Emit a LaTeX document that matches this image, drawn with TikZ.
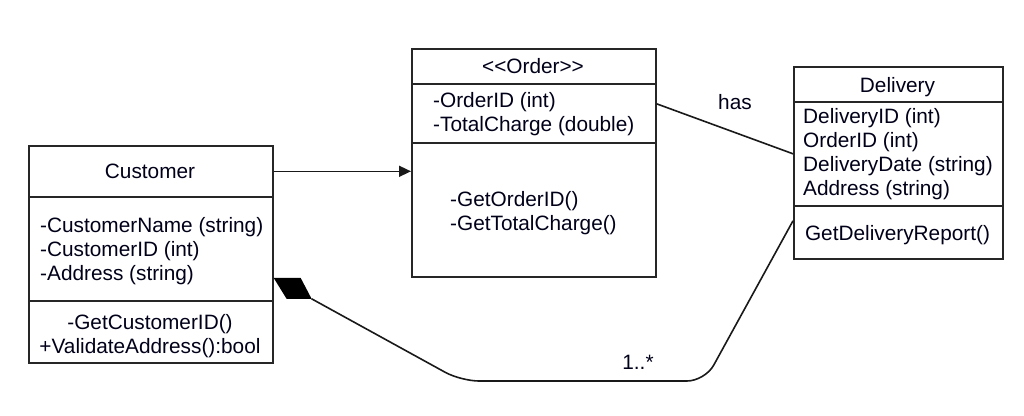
\documentclass[tikz,border=0pt]{standalone}
\usepackage{fontspec}
\setmainfont{Liberation Sans}
\usetikzlibrary{arrows.meta}
\begin{document}
\begin{tikzpicture}[x=1pt,y=-1pt,
  comp/.style={draw=black!85, line width=1.6pt, anchor=north west, inner sep=0pt},
  txt/.style={inner sep=0pt, text=black!90!blue, font=\fontsize{20.8}{24}\selectfont},
  conn/.style={draw=black!90, line width=1.6pt}]
\useasboundingbox (0,0) rectangle (1024,415);
% Customer
\node[comp, minimum width=244pt, minimum height=51pt] (custHead) at (28,145) {};
\node[comp, minimum width=244pt, minimum height=104pt] (custAttr) at (28,196) {};
\node[comp, minimum width=244pt, minimum height=62pt] (custMeth) at (28,300) {};
\node[txt, anchor=base] (tCust) at (150,178.5) {Customer};
\node[txt, anchor=base west] (tC1) at (40,232.5) {-CustomerName (string)};
\node[txt, anchor=base west] (tC2) at (40,256.5) {-CustomerID (int)};
\node[txt, anchor=base west] (tC3) at (40,280.5) {-Address (string)};
\node[txt, anchor=base] (tC4) at (150,329) {-GetCustomerID()};
\node[txt, anchor=base] (tC5) at (150,353) {+ValidateAddress():bool};
% Order
\node[comp, minimum width=244pt, minimum height=35pt] (ordHead) at (411,48) {};
\node[comp, minimum width=244pt, minimum height=59pt] (ordAttr) at (411,83) {};
\node[comp, minimum width=244pt, minimum height=134pt] (ordMeth) at (411,142) {};
\node[txt, anchor=base] (tOrd) at (533,73.5) {<{}<Order>{}>};
\node[txt, anchor=base west] (tO1) at (433,107.5) {-OrderID (int)};
\node[txt, anchor=base west] (tO2) at (433,131.5) {-TotalCharge (double)};
\node[txt, anchor=base west] (tO3) at (450,206) {-GetOrderID()};
\node[txt, anchor=base west] (tO4) at (450,230) {-GetTotalCharge()};
% Delivery
\node[comp, minimum width=209pt, minimum height=35pt] (delHead) at (793,66) {};
\node[comp, minimum width=209pt, minimum height=104pt] (delAttr) at (793,101) {};
\node[comp, minimum width=209pt, minimum height=53pt] (delMeth) at (793,205) {};
\node[txt, anchor=base] (tDel) at (897.5,92) {Delivery};
\node[txt, anchor=base west] (tD1) at (803,123) {DeliveryID (int)};
\node[txt, anchor=base west] (tD2) at (803,147) {OrderID (int)};
\node[txt, anchor=base west] (tD3) at (803,171) {DeliveryDate (string)};
\node[txt, anchor=base west] (tD4) at (803,195) {Address (string)};
\node[txt, anchor=base] (tD5) at (897.5,240) {GetDeliveryReport()};
% association arrow
\draw[conn, -{Triangle[length=12pt,width=11pt]}] (custHead.east) -- (custHead.east -| ordMeth.west);
% has
\draw[conn] ([yshift=9.5pt]ordAttr.east) -- (delAttr.west);
\node[txt, anchor=base] (lHas) at (735,109.5) {has};
% composition
\coordinate (dTip) at ([yshift=-29pt]custAttr.east);
\fill[black] (dTip) -- ++(27,0) -- ++(11,21) -- ++(-25,0) -- cycle;
\coordinate (dEnd) at ([xshift=38pt,yshift=-21pt]dTip);
\coordinate (delEnd) at ([yshift=11.5pt]delMeth.west);
\draw[conn, rounded corners=18pt] (dEnd) -- (461,381) -- (705,381) -- (delEnd);
\node[txt, anchor=base] (lMult) at (638,369) {1..*};
\end{tikzpicture}
\end{document}
